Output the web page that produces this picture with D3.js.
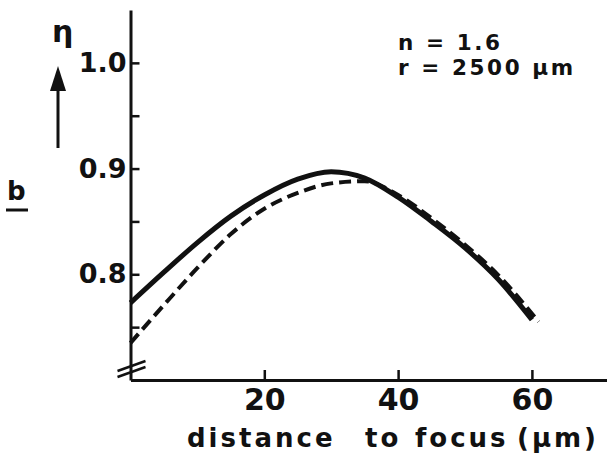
<!DOCTYPE html>
<html>
<head>
<meta charset="utf-8">
<script src="https://cdn.jsdelivr.net/npm/d3@7"></script>
<style>
  body { margin: 0; background: #fff; }
  text { font-family: "DejaVu Sans", sans-serif; font-weight: bold; fill: #111; }
  .axis path, .axis line { stroke: #111; }
</style>
</head>
<body>
<script>
// curve values
var solidX = [0, 5, 10, 15, 20, 25, 30, 35, 40, 45, 50, 55, 60];
var solidY = [0.773, 0.802, 0.830, 0.855, 0.875, 0.890, 0.897, 0.891, 0.873, 0.850, 0.825, 0.795, 0.757];
var dashX = [0, 5, 10, 15, 20, 25, 30, 35, 40, 45, 50, 55, 61];
var dashY = [0.735, 0.771, 0.806, 0.838, 0.862, 0.877, 0.886, 0.888, 0.875, 0.853, 0.828, 0.799, 0.755];

var xTicks = [20, 40, 60];
var yTicks = [0.75, 0.8, 0.85, 0.9, 0.95, 1.0];
var yLabelled = [0.8, 0.9, 1.0];
var xWords = ["distance", "to", "focus", "(µm)"];
var noteLines = ["n = 1.6", "r = 2500 µm"];

var width = 607,
    height = 460;

var svg = d3.select("body")
    .append("svg")
    .attr("width", width)
    .attr("height", height);

var x = d3.scaleLinear().domain([0, 71.3]).range([130.5, 607.5]);
var y = d3.scaleLinear().domain([0.7, 1.05]).range([380, 10]);

//y axis, ticks pointing inward
var yAxis = d3.axisLeft(y)
    .tickValues(yTicks)
    .tickSize(-9)
    .tickSizeOuter(0)
    .tickPadding(4)
    .tickFormat(function(d){
        return yLabelled.some(function(v){ return Math.abs(v - d) < 1e-9; }) ? d3.format(".1f")(d) : "";
    });

svg.append("g")
    .attr("class", "axis")
    .attr("transform", "translate(" + x(0) + ",0)")
    .call(yAxis)
    .call(function(g){
        g.select(".domain").attr("stroke-width", 3);
        g.selectAll("line").attr("stroke-width", 2.5);
        g.selectAll("text").style("font-size", "27px").attr("fill", "#111");
    });

//x axis
var xAxis = d3.axisBottom(x)
    .tickValues(xTicks)
    .tickSize(-10)
    .tickSizeOuter(0)
    .tickPadding(9);

svg.append("g")
    .attr("class", "axis")
    .attr("transform", "translate(0," + y(0.7) + ")")
    .call(xAxis)
    .call(function(g){
        g.select(".domain").attr("stroke-width", 3);
        g.selectAll("line").attr("stroke-width", 2.5);
        g.selectAll("text").style("font-size", "30px").attr("fill", "#111");
    });

//axis break marks
svg.selectAll(".brk")
    .data([0, 6])
    .enter()
    .append("line")
    .attr("class", "brk")
    .attr("x1", x(0) - 13).attr("y1", function(d){ return 371 + d; })
    .attr("x2", x(0) + 15).attr("y2", function(d){ return 361 + d; })
    .attr("stroke", "#111")
    .attr("stroke-width", 2.5);

var line = d3.line()
    .x(function(d){ return x(d[0]); })
    .y(function(d){ return y(d[1]); })
    .curve(d3.curveMonotoneX);

svg.append("path")
    .datum(d3.zip(dashX, dashY))
    .attr("fill", "none")
    .attr("stroke", "#111")
    .attr("stroke-width", 4)
    .attr("stroke-dasharray", "12,6")
    .attr("d", line);

svg.append("path")
    .datum(d3.zip(solidX, solidY))
    .attr("fill", "none")
    .attr("stroke", "#111")
    .attr("stroke-width", 5)
    .attr("d", line);

//x label, words spread out like the original
var wordX = [187, 365, 415, 517];
svg.selectAll(".xword")
    .data(xWords)
    .enter()
    .append("text")
    .attr("class", "xword")
    .attr("x", function(d, i){ return wordX[i]; })
    .attr("y", 447)
    .style("font-size", "26px")
    .style("letter-spacing", "3px")
    .text(function(d){ return d; });

//parameters note
svg.selectAll(".note")
    .data(noteLines)
    .enter()
    .append("text")
    .attr("class", "note")
    .attr("x", 398)
    .attr("y", function(d, i){ return 50 + i * 25; })
    .style("font-size", "21.5px")
    .style("letter-spacing", "2.6px")
    .text(function(d){ return d; });

//eta with arrow
svg.append("text")
    .attr("x", 52)
    .attr("y", 42)
    .style("font-size", "30px")
    .text("η");

svg.append("line")
    .attr("x1", 58).attr("y1", 148)
    .attr("x2", 58).attr("y2", 86)
    .attr("stroke", "#111")
    .attr("stroke-width", 3);

svg.append("path")
    .attr("d", "M50,91 L66,91 L58,66 Z")
    .attr("fill", "#111");

//underlined b
svg.append("text")
    .attr("x", 7)
    .attr("y", 200)
    .style("font-size", "26px")
    .text("b");

svg.append("line")
    .attr("x1", 6).attr("y1", 210)
    .attr("x2", 28).attr("y2", 210)
    .attr("stroke", "#111")
    .attr("stroke-width", 3);
</script>
</body>
</html>
